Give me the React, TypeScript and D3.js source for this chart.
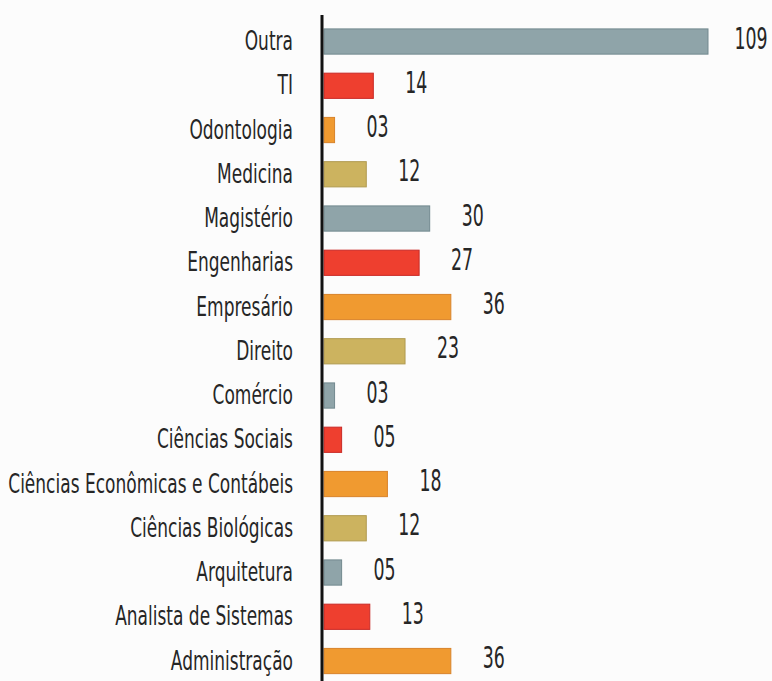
import React from "react";
import * as d3 from "d3";

const categories = [
  "Outra",
  "TI",
  "Odontologia",
  "Medicina",
  "Magistério",
  "Engenharias",
  "Empresário",
  "Direito",
  "Comércio",
  "Ciências Sociais",
  "Ciências Econômicas e Contábeis",
  "Ciências Biológicas",
  "Arquitetura",
  "Analista de Sistemas",
  "Administração",
];
const values = [109, 14, 3, 12, 30, 27, 36, 23, 3, 5, 18, 12, 5, 13, 36];
const valueLabels = ["109", "14", "03", "12", "30", "27", "36", "23", "03", "05", "18", "12", "05", "13", "36"];
const fills = ["#8fa4a9", "#ee3f2f", "#f09a30", "#ccb35f"];
const strokes = ["#72898f", "#c92a26", "#d8832a", "#b09a50"];

const W = 772;
const H = 681;

export default function App() {
  const y = d3
    .scaleBand<string>()
    .domain(categories)
    .range([19.4, 19.4 + 44.25 * categories.length])
    .paddingInner(0.43)
    .paddingOuter(0.215);
  const x = d3.scaleLinear().domain([0, 109]).range([324, 708]);
  const n = categories.length;
  const font = "'DejaVu Sans', sans-serif";

  return (
    <svg
      width={W}
      height={H}
      style={{ position: "absolute", left: 0, top: 0, background: "#fcfcfc" }}
    >
      {categories.map((c, i) => {
        const idx = [2, 1, 0, 3][(n - 1 - i) % 4];
        const yc = (y(c) as number) + y.bandwidth() / 2;
        const x1 = x(values[i]);
        return (
          <g key={c}>
            <rect
              x={x(0)}
              y={y(c)}
              width={x1 - x(0)}
              height={y.bandwidth()}
              fill={fills[idx]}
              stroke={strokes[idx]}
              strokeWidth={1}
            />
            <text
              transform={`translate(293,${yc + 8.5}) scale(0.655,1)`}
              textAnchor="end"
              fontFamily={font}
              fontSize={26}
              fill="#262626"
            >
              {c}
            </text>
            <text
              transform={`translate(${x1 + 43},${yc + 7}) scale(0.56,1)`}
              textAnchor="middle"
              fontFamily={font}
              fontSize={31}
              fill="#262626"
            >
              {valueLabels[i]}
            </text>
          </g>
        );
      })}
      <line x1={322} x2={322} y1={15} y2={H} stroke="#111" strokeWidth={3} />
    </svg>
  );
}
